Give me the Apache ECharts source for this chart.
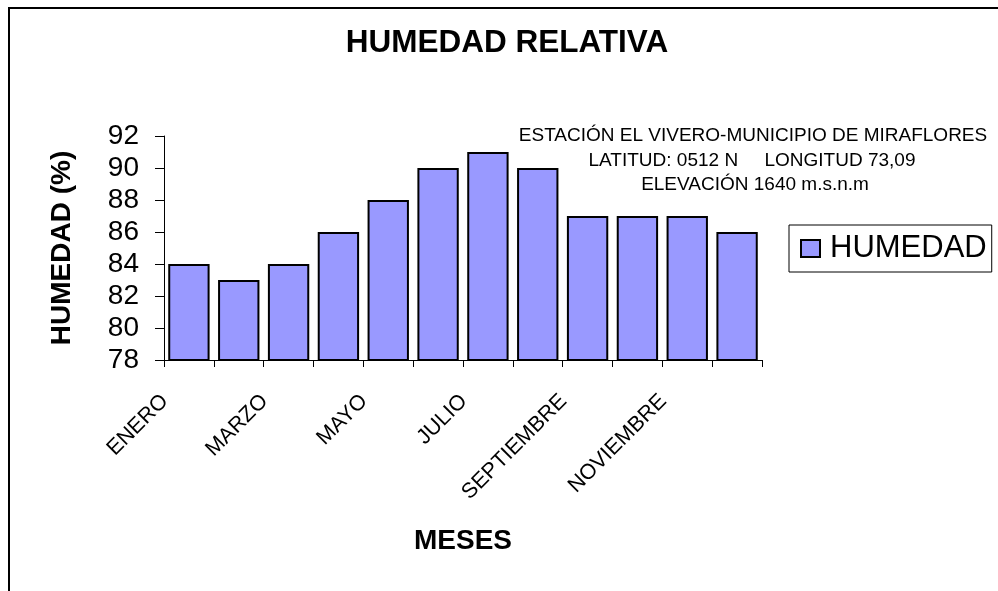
<!DOCTYPE html>
<html>
<head>
<meta charset="utf-8">
<script src="https://cdn.jsdelivr.net/npm/echarts@6/dist/echarts.min.js"></script>
<style>
html,body{margin:0;padding:0;background:#fff;}
#chart{width:998px;height:591px;}
</style>
</head>
<body>
<div id="chart"></div>
<script>
const months = ['ENERO','FEBRERO','MARZO','ABRIL','MAYO','JUNIO','JULIO','AGOSTO','SEPTIEMBRE','OCTUBRE','NOVIEMBRE','DICIEMBRE'];
const humedad = [84, 83, 84, 86, 88, 90, 91, 90, 87, 87, 87, 86];
const chartTitle = 'HUMEDAD RELATIVA';
const noteLines = ['ESTACIÓN EL VIVERO-MUNICIPIO DE MIRAFLORES', 'LATITUD: 0512 N     LONGITUD 73,09', 'ELEVACIÓN 1640 m.s.n.m'];
const seriesName = 'HUMEDAD';
const yName = 'HUMEDAD (%)';
const xName = 'MESES';

const FONT = 'Arial, "Liberation Sans", sans-serif';
const chart = echarts.init(document.getElementById('chart'), null, {renderer: 'canvas'});
chart.setOption({
  backgroundColor: '#ffffff',
  animation: false,
  textStyle: {fontFamily: FONT, color: '#000'},
  grid: {left: 164, right: 236, top: 136, bottom: 231, containLabel: false},
  legend: {
    left: 789, top: 225,
    orient: 'vertical',
    borderColor: '#000', borderWidth: 1,
    padding: [8, 5, 8, 11],
    itemWidth: 19, itemHeight: 17,
    itemGap: 0,
    icon: 'rect',
    textStyle: {fontSize: 31, fontFamily: FONT, color: '#000', padding: [0, 0, 0, 5]},
    data: [seriesName]
  },
  xAxis: {
    type: 'category',
    data: months,
    name: xName,
    nameLocation: 'middle',
    nameGap: 167,
    nameTextStyle: {fontSize: 28, fontWeight: 'bold', fontFamily: FONT, color: '#000'},
    axisLine: {lineStyle: {color: '#000', width: 1}},
    axisTick: {show: true, length: 7, interval: 0, lineStyle: {color: '#000'}},
    axisLabel: {
      interval: 1, rotate: 45, fontSize: 21.5, fontFamily: FONT, color: '#000',
      margin: 14, padding: [0, 34, 0, 0]
    }
  },
  yAxis: {
    type: 'value',
    min: 78, max: 92, interval: 2,
    name: yName,
    nameLocation: 'middle',
    nameGap: 88,
    nameTextStyle: {fontSize: 28, fontWeight: 'bold', fontFamily: FONT, color: '#000'},
    axisLine: {show: true, lineStyle: {color: '#000', width: 1}},
    axisTick: {show: true, length: 9, lineStyle: {color: '#000'}},
    axisLabel: {fontSize: 28, fontFamily: FONT, color: '#000', margin: 25},
    splitLine: {show: false}
  },
  series: [{
    name: seriesName,
    type: 'bar',
    data: humedad,
    barCategoryGap: '17%',
    itemStyle: {color: '#9999ff', borderColor: '#000', borderWidth: 2}
  }],
  graphic: [
    {type: 'rect', shape: {x: 9, y: 8, width: 1200, height: 800}, style: {fill: 'none', stroke: '#000', lineWidth: 2}, silent: true, z: -1},
    {type: 'text', x: 507, y: 43, style: {text: chartTitle, fontSize: 31.5, fontWeight: 'bold', fontFamily: FONT, fill: '#000', textAlign: 'center', textVerticalAlign: 'middle'}},
    {type: 'text', x: 753, y: 136, style: {text: noteLines[0], fontSize: 19, fontFamily: FONT, fill: '#000', textAlign: 'center', textVerticalAlign: 'middle'}},
    {type: 'text', x: 752, y: 161, style: {text: noteLines[1], fontSize: 19, fontFamily: FONT, fill: '#000', textAlign: 'center', textVerticalAlign: 'middle'}},
    {type: 'text', x: 755, y: 185, style: {text: noteLines[2], fontSize: 19, fontFamily: FONT, fill: '#000', textAlign: 'center', textVerticalAlign: 'middle'}}
  ]
});
</script>
</body>
</html>
